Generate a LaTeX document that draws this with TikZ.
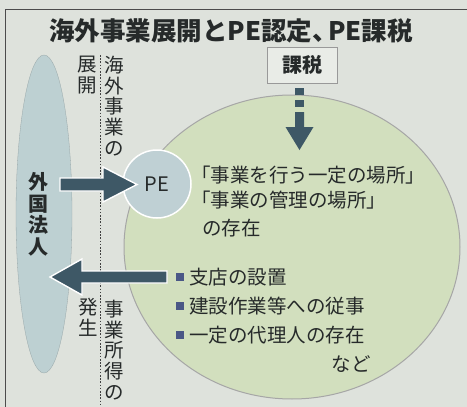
\documentclass[tikz,border=0pt]{standalone}
\usepackage{fontspec}
\setmainfont{Noto Sans CJK JP}
\usetikzlibrary{shapes.geometric}
\definecolor{bgc}{HTML}{DEE2DC}
\definecolor{greenc}{HTML}{D2DFBE}
\definecolor{bluec}{HTML}{BDD0D2}
\definecolor{pec}{HTML}{BFD0D4}
\definecolor{arrc}{HTML}{3E5866}
\definecolor{bulc}{HTML}{4A5786}
\definecolor{txtc}{HTML}{262A2A}
\definecolor{boxc}{HTML}{E9ECE7}
\tikzset{
  txt/.style={inner sep=0pt, text=txtc, font=\fontsize{19.5}{20.5}\selectfont},
  vtxt/.style={txt, align=center, font=\fontsize{19.5}{20.6}\selectfont},
  arrowshape/.style={fill=arrc, draw=white, line width=1.4pt, line join=miter},
  bullet/.style={fill=bulc, minimum size=8.5pt, inner sep=0pt},
}
\begin{document}
\begin{tikzpicture}[x=1pt,y=-1pt]
\useasboundingbox (0,0) rectangle (467,407);
\fill[bgc] (0,0) rectangle (467,407);
\draw[black!70, line width=0.8pt] (467,9) -- (5,9) -- (5,407);
% title
\node[inner sep=0pt, text=txtc, font=\fontsize{25.5}{25.5}\selectfont\bfseries] (title) at (231,31) {海外事業展開とPE認定、\kern-10pt PE課税};
% big green region
\node[ellipse, fill=greenc, draw=black!35, line width=1pt, minimum width=336pt, minimum height=304pt, inner sep=0pt] (region) at (292,247) {};
% foreign corporation
\node[ellipse, fill=bluec, draw=bluec!80!black, line width=0.3pt, minimum width=56pt, minimum height=318pt, inner sep=0pt] (corp) at (44,214) {};
\node[vtxt, font=\fontsize{20}{21.5}\selectfont\bfseries] (corptext) at (38,214.5) {外\\国\\法\\人};
% dotted divider
\coordinate (dtop) at (100,55);
\coordinate (dbot) at (100,407);
\draw[black!75, line width=0.9pt, dash pattern=on 1.6pt off 1.6pt] (dtop) -- (dbot);
% vertical labels
\node[vtxt] (v1) at (114,106) {海\\外\\事\\業\\の};
\node[vtxt] (v2) at (87,75) {展\\開};
\node[vtxt] (v3) at (114,350) {事\\業\\所\\得\\の};
\node[vtxt] (v4) at (88,317.5) {発\\生};
% PE circle
\node[circle, fill=pec, draw=white, line width=1.5pt, minimum size=68pt, inner sep=0pt, text=txtc, font=\fontsize{20}{20}\selectfont] (pe) at (157,184) {PE};
% arrow corp -> PE
\coordinate (a1s) at (60,184.5);
\coordinate (a1e) at (137,184.5);
\draw[arrowshape] (a1s) ++(0,-6.5) -- (103,178) -- (103,167) -- (a1e) -- (103,202) -- (103,191) -- (60,191) -- cycle;
% arrow region -> corp
\coordinate (a2s) at (167,277);
\coordinate (a2e) at (50,277);
\draw[arrowshape] (a2s) ++(0,-6) -- (82,271) -- (82,259) -- (a2e) -- (82,295) -- (82,283) -- (167,283) -- cycle;
% tax box
\node[fill=boxc, draw=black!40, line width=0.8pt, minimum width=70pt, minimum height=36pt, inner sep=0pt, text=txtc, font=\fontsize{20}{20}\selectfont\bfseries] (tax) at (302,65) {課税};
% dashed arrow from tax box
\fill[arrc] (295,88) rectangle (304,95);
\fill[arrc] (295,100) rectangle (304,107);
\coordinate (a3e) at (299.5,150);
\fill[arrc] (295,112) -- (304,112) -- (304,127) -- (313.5,127) -- (a3e) -- (285.5,127) -- (295,127) -- cycle;
% conditions
\node[txt, anchor=west] (c1) at (191,175) {「事業を行う一定の場所」};
\node[txt, anchor=west] (c2) at (191,200) {「事業の管理の場所」};
\node[txt, anchor=west] (c3) at (202,228) {の存在};
% bullets
\node[bullet] (b1) at (180,277) {};
\node[txt, anchor=west] (t1) at (189,277) {支店の設置};
\node[bullet] (b2) at (180,306) {};
\node[txt, anchor=west] (t2) at (189,306) {建設作業等への従事};
\node[bullet] (b3) at (180,335) {};
\node[txt, anchor=west] (t3) at (189,335) {一定の代理人の存在};
\node[txt, anchor=east] (t4) at (371,364) {など};
\end{tikzpicture}
\end{document}
